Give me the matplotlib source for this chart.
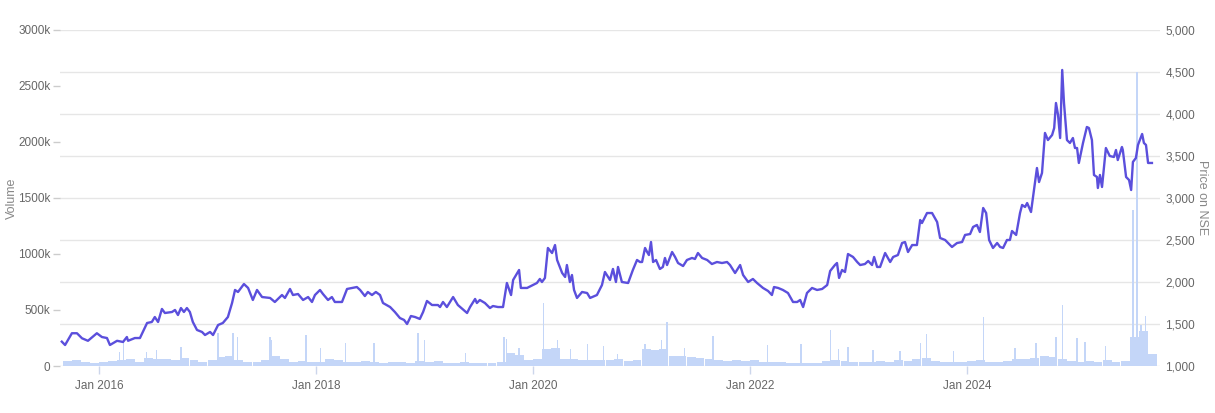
import pandas as pd
import matplotlib
matplotlib.use("Agg")
import matplotlib.pyplot as plt
import matplotlib.dates as mdates
from matplotlib.ticker import FuncFormatter, MultipleLocator

plt.rcParams['font.family'] = ['Liberation Sans', 'DejaVu Sans']

# price on NSE
price_dates = [
    "2015-08-29", "2015-09-09", "2015-10-02", "2015-10-19", "2015-11-05", "2015-11-25", "2015-12-25",
    "2016-01-11", "2016-01-28", "2016-02-07", "2016-03-02", "2016-03-22", "2016-04-04", "2016-04-08",
    "2016-05-01", "2016-05-18", "2016-06-11", "2016-06-27", "2016-07-07", "2016-07-18", "2016-07-31",
    "2016-08-10", "2016-09-03", "2016-09-13", "2016-09-23", "2016-10-03", "2016-10-13", "2016-10-23",
    "2016-11-02", "2016-11-12", "2016-11-26", "2016-12-13", "2016-12-23", "2017-01-09", "2017-01-19",
    "2017-02-05", "2017-02-21", "2017-03-10", "2017-03-24", "2017-04-03", "2017-04-13", "2017-05-03",
    "2017-05-17", "2017-06-02", "2017-06-16", "2017-07-03", "2017-07-30", "2017-08-15", "2017-09-08",
    "2017-09-18", "2017-10-05", "2017-10-15", "2017-11-01", "2017-11-18", "2017-12-05", "2017-12-18",
    "2017-12-28", "2018-01-14", "2018-01-24", "2018-02-10", "2018-02-23", "2018-03-05", "2018-03-29",
    "2018-04-15", "2018-05-02", "2018-05-18", "2018-05-29", "2018-06-14", "2018-06-24", "2018-07-08",
    "2018-07-21", "2018-08-04", "2018-08-14", "2018-09-07", "2018-09-23", "2018-10-10", "2018-10-24",
    "2018-11-03", "2018-11-16", "2018-11-30", "2018-12-16", "2018-12-27", "2019-01-09", "2019-01-26",
    "2019-02-15", "2019-02-22", "2019-03-04", "2019-03-17", "2019-04-07", "2019-04-23", "2019-05-24",
    "2019-06-03", "2019-06-20", "2019-06-26", "2019-07-06", "2019-07-23", "2019-08-09", "2019-08-19",
    "2019-09-05", "2019-09-22", "2019-10-05", "2019-10-19", "2019-10-26", "2019-11-15", "2019-11-21",
    "2019-12-12", "2020-01-01", "2020-01-14", "2020-01-24", "2020-01-31", "2020-02-10", "2020-02-20",
    "2020-03-05", "2020-03-15", "2020-03-22", "2020-04-08", "2020-04-18", "2020-04-24", "2020-05-04",
    "2020-05-11", "2020-05-18", "2020-05-28", "2020-06-14", "2020-07-01", "2020-07-11", "2020-08-03",
    "2020-08-20", "2020-08-30", "2020-09-16", "2020-09-26", "2020-10-06", "2020-10-13", "2020-10-26",
    "2020-11-16", "2020-12-02", "2020-12-16", "2020-12-26", "2021-01-02", "2021-01-12", "2021-01-19",
    "2021-01-25", "2021-02-01", "2021-02-08", "2021-02-18", "2021-03-03", "2021-03-13", "2021-03-20",
    "2021-03-27", "2021-04-13", "2021-04-23", "2021-05-03", "2021-05-20", "2021-06-02", "2021-06-19",
    "2021-06-29", "2021-07-09", "2021-07-23", "2021-08-09", "2021-08-25", "2021-09-11", "2021-09-28",
    "2021-10-15", "2021-10-25", "2021-11-11", "2021-11-28", "2021-12-08", "2021-12-25", "2022-01-10",
    "2022-01-24", "2022-02-13", "2022-03-02", "2022-03-15", "2022-03-22", "2022-04-05", "2022-04-21",
    "2022-05-08", "2022-05-25", "2022-06-08", "2022-06-18", "2022-06-28", "2022-07-11", "2022-07-28",
    "2022-08-14", "2022-08-31", "2022-09-17", "2022-09-27", "2022-10-13", "2022-10-20", "2022-10-27",
    "2022-11-06", "2022-11-16", "2022-11-26", "2022-12-13", "2022-12-27", "2023-01-06", "2023-01-22",
    "2023-02-02", "2023-02-15", "2023-02-22", "2023-03-04", "2023-03-14", "2023-03-31", "2023-04-17",
    "2023-04-27", "2023-05-13", "2023-05-27", "2023-06-06", "2023-06-16", "2023-06-30", "2023-07-16",
    "2023-07-27", "2023-08-02", "2023-08-19", "2023-09-05", "2023-09-22", "2023-10-02", "2023-10-19",
    "2023-11-11", "2023-11-28", "2023-12-15", "2023-12-25", "2024-01-11", "2024-01-21", "2024-02-03",
    "2024-02-13", "2024-02-24", "2024-03-05", "2024-03-15", "2024-03-28", "2024-04-11", "2024-04-21",
    "2024-05-01", "2024-05-14", "2024-05-24", "2024-05-31", "2024-06-14", "2024-06-27", "2024-07-04",
    "2024-07-14", "2024-07-21", "2024-08-03", "2024-08-13", "2024-08-23", "2024-08-30", "2024-09-09",
    "2024-09-19", "2024-09-29", "2024-10-13", "2024-10-20", "2024-10-26", "2024-11-02", "2024-11-09",
    "2024-11-16", "2024-11-22", "2024-12-02", "2024-12-12", "2024-12-22", "2024-12-29", "2025-01-05",
    "2025-01-11", "2025-01-25", "2025-02-07", "2025-02-14", "2025-02-24", "2025-03-03", "2025-03-13",
    "2025-03-16", "2025-03-23", "2025-03-30", "2025-04-12", "2025-04-25", "2025-05-09", "2025-05-16",
    "2025-05-22", "2025-06-05", "2025-06-08", "2025-06-19", "2025-06-29", "2025-07-06", "2025-07-12",
    "2025-07-22", "2025-07-29", "2025-08-12", "2025-08-18", "2025-08-25", "2025-09-01", "2025-09-14",
]
price = [
    1290, 1250, 1390, 1390, 1330, 1300, 1390,
    1345, 1333, 1250, 1300, 1286, 1345, 1300,
    1333, 1333, 1512, 1524, 1583, 1524, 1679,
    1631, 1643, 1667, 1607, 1690, 1643, 1690,
    1643, 1524, 1429, 1405, 1369, 1405, 1369,
    1488, 1512, 1583, 1750, 1905, 1881, 1976,
    1929, 1786, 1905, 1821, 1810, 1762, 1845,
    1810, 1917, 1845, 1857, 1786, 1821, 1762,
    1845, 1905, 1857, 1786, 1821, 1762, 1762,
    1917, 1929, 1940, 1905, 1833, 1881, 1845,
    1881, 1845, 1750, 1702, 1643, 1571, 1548,
    1500, 1595, 1583, 1560, 1643, 1774, 1726,
    1726, 1702, 1762, 1702, 1821, 1726, 1631,
    1702, 1798, 1750, 1786, 1750, 1690, 1714,
    1702, 1702, 1988, 1845, 2024, 2143, 1929,
    1929, 1964, 1988, 2036, 2000, 2048, 2405,
    2345, 2440, 2262, 2107, 2060, 2202, 2000,
    2083, 1905, 1810, 1881, 1869, 1810, 1845,
    1964, 2119, 2024, 2155, 2000, 2179, 2000,
    1988, 2143, 2262, 2238, 2238, 2405, 2357,
    2321, 2476, 2238, 2262, 2155, 2179, 2286,
    2202, 2357, 2298, 2226, 2190, 2262, 2286,
    2274, 2345, 2286, 2262, 2214, 2238, 2226,
    2238, 2202, 2107, 2202, 2083, 2000, 2036,
    1988, 1929, 1893, 1845, 1940, 1929, 1905,
    1869, 1762, 1762, 1786, 1702, 1869, 1929,
    1905, 1917, 1964, 2131, 2202, 2226, 2048,
    2143, 2119, 2333, 2298, 2238, 2202, 2214,
    2250, 2202, 2298, 2179, 2179, 2345, 2238,
    2298, 2321, 2464, 2476, 2357, 2440, 2440,
    2738, 2702, 2821, 2821, 2714, 2524, 2500,
    2417, 2464, 2476, 2560, 2571, 2655, 2679,
    2595, 2881, 2821, 2500, 2405, 2464, 2417,
    2405, 2500, 2500, 2607, 2560, 2821, 2917,
    2893, 2940, 2833, 3095, 3357, 3190, 3298,
    3774, 3690, 3750, 3833, 4131, 3988, 3714,
    4524, 4131, 3690, 3655, 3714, 3595, 3595,
    3417, 3655, 3845, 3833, 3690, 3274, 3250,
    3119, 3274, 3131, 3595, 3500, 3488, 3571,
    3452, 3607, 3571, 3250, 3214, 3095, 3429,
    3476, 3631, 3762, 3655, 3631, 3417, 3417,
]

# typical traded volume per month (thousands)
vol_months = pd.period_range("2015-09", "2025-09", freq="M").astype(str).tolist()
vol_base = [
    45, 55, 35, 30,
    40, 45, 55, 60, 40, 70, 65, 60, 50, 70, 50, 35,
    50, 80, 90, 50, 40, 35, 55, 90, 60, 40, 45, 35,
    40, 60, 50, 40, 35, 45, 40, 30, 40, 35, 30, 45,
    40, 45, 30, 25, 35, 30, 25, 30, 40, 115, 100, 55,
    65, 150, 160, 60, 60, 55, 50, 50, 50, 60, 45, 55,
    150, 140, 150, 90, 90, 80, 70, 60, 50, 45, 55, 45,
    50, 40, 35, 35, 30, 25, 30, 25, 45, 55, 45, 40,
    35, 40, 45, 40, 50, 45, 60, 75, 45, 40, 35, 40,
    45, 55, 40, 35, 45, 65, 60, 75, 85, 80, 60, 45,
    40, 45, 35, 50, 40, 45, 260, 310, 110,
]

# single-day volume spikes (thousands)
spike_dates = [
    "2016-03-10", "2016-03-25", "2016-06-10", "2016-07-12", "2016-10-03", "2017-02-05", "2017-03-27",
    "2017-04-10", "2017-07-30", "2017-08-05", "2017-11-28", "2018-01-17", "2018-04-11", "2018-07-15",
    "2018-12-10", "2019-01-02", "2019-05-20", "2019-09-25", "2019-10-05", "2019-11-15", "2020-02-04",
    "2020-03-22", "2020-05-05", "2020-07-01", "2020-08-24", "2020-10-10", "2021-01-12", "2021-03-07",
    "2021-03-27", "2021-05-25", "2021-08-29", "2022-02-27", "2022-06-21", "2022-09-27", "2022-10-25",
    "2022-11-26", "2023-02-18", "2023-05-20", "2023-07-27", "2023-08-16", "2023-11-15", "2024-02-24",
    "2024-06-10", "2024-08-20", "2024-10-26", "2024-11-16", "2025-01-05", "2025-02-01", "2025-04-12",
    "2025-07-12", "2025-07-26", "2025-08-08", "2025-08-22",
]
spike_vol = [
    125, 214, 125, 143, 170, 295, 295,
    255, 260, 230, 277, 160, 205, 205,
    295, 232, 120, 260, 240, 160, 565,
    232, 150, 196, 180, 110, 196, 232,
    393, 160, 268, 188, 196, 321, 150,
    170, 143, 130, 205, 286, 134, 437,
    160, 205, 260, 545, 250, 214, 180,
    1393, 2625, 366, 446,
]

price_dates = pd.to_datetime(price_dates)
month_mid = pd.to_datetime(vol_months) + pd.Timedelta(days=15)
spike_dates = pd.to_datetime(spike_dates)

fig = plt.figure(figsize=(12.15, 4.13), dpi=100)
ax = fig.add_axes([0.0494, 0.1138, 0.9053, 0.8136])
ax2 = ax.twinx()

bar_col = "#c4d6f8"
ax.bar(month_mid, [v * 1000 for v in vol_base], width=30, color=bar_col, linewidth=0)
ax.bar(spike_dates, [v * 1000 for v in spike_vol], width=4, color=bar_col, linewidth=0)

ax2.plot(price_dates, price, color="#5b4fdc", linewidth=1.7, solid_joinstyle="round")

vmax = 3000000
pmin, pmax = 1000, 5000
ax.set_ylim(0, vmax)
ax2.set_ylim(pmin, pmax)
ax.set_xlim(pd.Timestamp("2015-08-23"), pd.Timestamp("2025-10-11"))

ax.yaxis.set_major_locator(MultipleLocator(500000))
ax.yaxis.set_major_formatter(FuncFormatter(lambda v, p: "0" if v == 0 else f"{int(v/1000)}k"))
ax2.yaxis.set_major_locator(MultipleLocator(500))
ax2.yaxis.set_major_formatter(FuncFormatter(lambda v, p: f"{int(v):,}"))

# horizontal grid follows the price ticks but is drawn behind the bars
grid_levels = [(p - pmin) / (pmax - pmin) * vmax for p in range(pmin, pmax + 1, 500)]
for g in grid_levels:
    ax.axhline(g, color="#e6e6e6", linewidth=1, zorder=0)

ax.xaxis.set_major_locator(mdates.YearLocator(2, month=1, day=1))
ax.xaxis.set_major_formatter(mdates.DateFormatter("Jan %Y"))

for a in (ax, ax2):
    for s in a.spines.values():
        s.set_visible(False)

ax.tick_params(axis="x", colors="#ccd6eb", length=6, width=1, labelcolor="#666666", labelsize=8.5, pad=4)
ax.tick_params(axis="y", colors="#cccccc", length=5, width=1, labelcolor="#666666", labelsize=8.5, pad=2)
ax2.tick_params(axis="y", length=0, labelcolor="#666666", labelsize=8.5, pad=4)

ax.set_ylabel("Volume", color="#888888", fontsize=9, labelpad=0)
ax2.set_ylabel("Price on NSE", color="#888888", fontsize=9, rotation=270, labelpad=9)

fig.savefig("out.png", dpi=100)
